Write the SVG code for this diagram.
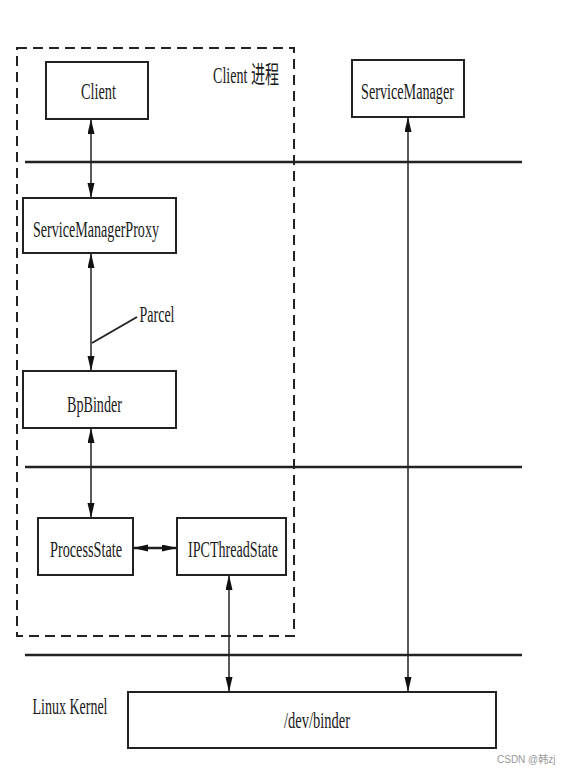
<svg xmlns="http://www.w3.org/2000/svg" width="570" height="775" viewBox="0 0 570 775">
<style>
.box{fill:#fff;stroke:#222;stroke-width:2}
.t{font-family:"Liberation Serif","Times New Roman",serif;font-size:24px;fill:#1a1a1a;text-anchor:middle}
.sep{stroke:#222;stroke-width:2.5}
.c{stroke:#222;stroke-width:1.5;fill:none;marker-start:url(#ah);marker-end:url(#ah)}
</style>
<defs>
<marker id="ah" markerUnits="userSpaceOnUse" markerWidth="16" markerHeight="8" refX="15" refY="3.5" orient="auto-start-reverse">
<path d="M0,0 L15,3.5 L0,7 z" fill="#111"/>
</marker>
</defs>
<rect width="570" height="775" fill="#fff"/>
<rect id="client-process" x="17" y="48" width="277" height="588" fill="none" stroke="#222" stroke-width="2" stroke-dasharray="10,6"/>
<g id="separators">
<line class="sep" x1="25" y1="162" x2="522" y2="162"/>
<line class="sep" x1="25" y1="467" x2="522" y2="467"/>
<line class="sep" x1="25" y1="655" x2="522" y2="655"/>
</g>
<g id="connectors">
<line class="c" x1="91" y1="119" x2="91" y2="198"/>
<line class="c" x1="91" y1="253" x2="91" y2="371"/>
<line class="c" x1="91" y1="428" x2="91" y2="518"/>
<line class="c" x1="133" y1="548" x2="177" y2="548" style="stroke-width:2.5"/>
<line class="c" x1="229" y1="575" x2="229" y2="692"/>
<line class="c" x1="408" y1="117" x2="408" y2="692"/>
<line x1="92" y1="343" x2="137" y2="317" stroke="#222" stroke-width="2"/>
</g>
<text class="t" x="246" y="83" textLength="66" lengthAdjust="spacingAndGlyphs" style="font-family:'Liberation Serif','Noto Sans CJK SC',serif">Client 进程</text>
<text class="t" x="157" y="322" textLength="35" lengthAdjust="spacingAndGlyphs">Parcel</text>
<text class="t" x="70" y="714" textLength="75" lengthAdjust="spacingAndGlyphs">Linux Kernel</text>
<g id="client">
<rect class="box" x="46" y="62" width="102" height="57"/>
<text class="t" x="98.5" y="99" textLength="35" lengthAdjust="spacingAndGlyphs">Client</text>
</g>
<g id="servicemanager">
<rect class="box" x="352" y="60" width="112" height="57"/>
<text class="t" x="407.5" y="99" textLength="93" lengthAdjust="spacingAndGlyphs">ServiceManager</text>
</g>
<g id="smproxy">
<rect class="box" x="23" y="198" width="153" height="55"/>
<text class="t" x="96" y="237" textLength="126" lengthAdjust="spacingAndGlyphs">ServiceManagerProxy</text>
</g>
<g id="bpbinder">
<rect class="box" x="23" y="371" width="153" height="57"/>
<text class="t" x="94.5" y="412" textLength="55" lengthAdjust="spacingAndGlyphs">BpBinder</text>
</g>
<g id="processstate">
<rect class="box" x="38" y="518" width="95" height="57"/>
<text class="t" x="86" y="557" textLength="72" lengthAdjust="spacingAndGlyphs">ProcessState</text>
</g>
<g id="ipcthreadstate">
<rect class="box" x="177" y="518" width="109" height="57"/>
<text class="t" x="233" y="557" textLength="90" lengthAdjust="spacingAndGlyphs">IPCThreadState</text>
</g>
<g id="devbinder">
<rect class="box" x="128" y="692" width="368" height="56"/>
<text class="t" x="317" y="728" textLength="66" lengthAdjust="spacingAndGlyphs">/dev/binder</text>
</g>
<text x="497" y="763" style="font-family:'Liberation Sans','Noto Sans CJK SC',sans-serif;font-size:10px;fill:#999">CSDN @韩zj</text>
</svg>
